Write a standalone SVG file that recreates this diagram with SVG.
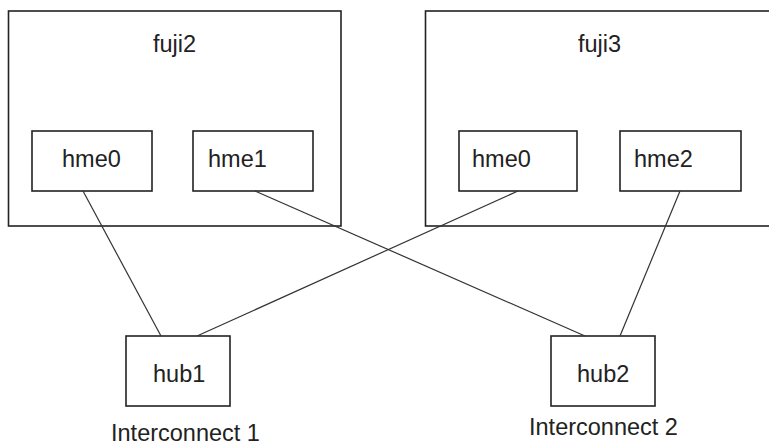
<svg xmlns="http://www.w3.org/2000/svg" width="769" height="446" viewBox="0 0 769 446">
<style>
.box{fill:none;stroke:#222;stroke-width:1.6}
.lbl{font-family:"Liberation Sans",Arial,sans-serif;font-size:23.5px;fill:#222}
.conn{stroke:#333;stroke-width:1.2;fill:none}
</style>
<rect width="769" height="446" fill="#fff"/>
<g id="fuji2">
<rect class="box" x="8.5" y="11" width="332.5" height="215"/>
<text class="lbl" x="153" y="52">fuji2</text>
</g>
<g id="fuji3">
<rect class="box" x="425.5" y="11" width="360" height="215"/>
<text class="lbl" x="578" y="52">fuji3</text>
</g>
<g id="fuji2-hme0">
<rect class="box" x="32" y="131" width="120" height="60"/>
<text class="lbl" x="62" y="167">hme0</text>
</g>
<g id="fuji2-hme1">
<rect class="box" x="193" y="131" width="120" height="60"/>
<text class="lbl" x="208" y="167">hme1</text>
</g>
<g id="fuji3-hme0">
<rect class="box" x="459" y="131" width="118" height="60"/>
<text class="lbl" x="472" y="167">hme0</text>
</g>
<g id="fuji3-hme2">
<rect class="box" x="620" y="131" width="121" height="60"/>
<text class="lbl" x="634" y="167">hme2</text>
</g>
<g id="hub1">
<rect class="box" x="126" y="336" width="104" height="70"/>
<text class="lbl" x="153" y="382">hub1</text>
</g>
<g id="hub2">
<rect class="box" x="551" y="336" width="104" height="70"/>
<text class="lbl" x="577" y="382">hub2</text>
</g>
<g id="label-ic1"><text class="lbl" x="111" y="440.5">Interconnect 1</text></g>
<g id="label-ic2"><text class="lbl" x="529" y="435">Interconnect 2</text></g>
<g id="connectors">
<line class="conn" x1="83" y1="191" x2="161" y2="336"/>
<line class="conn" x1="518" y1="191" x2="197" y2="336"/>
<line class="conn" x1="255" y1="191" x2="585" y2="336"/>
<line class="conn" x1="680" y1="191" x2="620" y2="336"/>
</g>
</svg>
